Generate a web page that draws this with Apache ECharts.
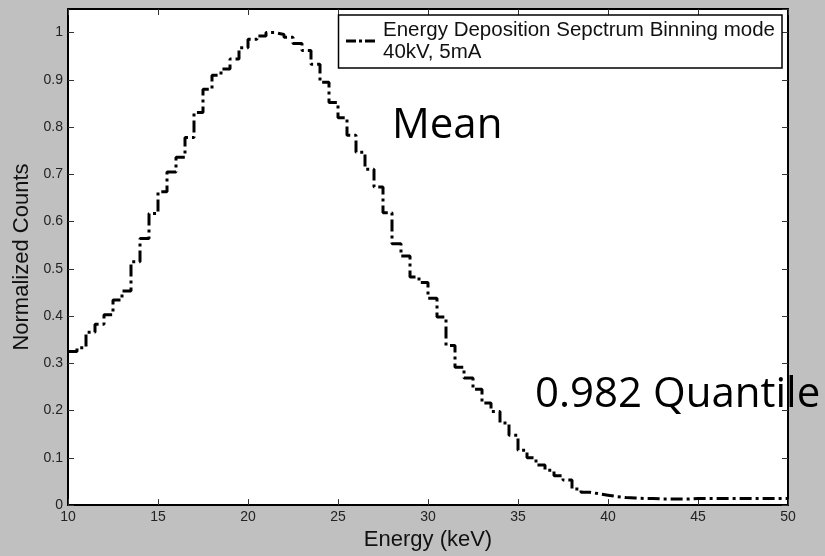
<!DOCTYPE html>
<html>
<head>
<meta charset="utf-8">
<script src="https://cdn.jsdelivr.net/npm/echarts@6/dist/echarts.min.js"></script>
<style>
html,body{margin:0;padding:0;background:#c0c0c0;}
#c{width:825px;height:556px;}
</style>
</head>
<body>
<div id="c"></div>
<script>
// Bin left edges (keV); last entry closes the final bin
const energy = [10,10.5,11,11.5,12,12.5,13,13.5,14,14.5,15,15.5,16,16.5,17,17.5,18,18.5,19,19.5,
  20,20.5,21,21.5,22,22.5,23,23.5,24,24.5,25,25.5,26,26.5,27,27.5,28,28.5,29,29.5,
  30,30.5,31,31.5,32,32.5,33,33.5,34,34.5,35,35.5,36,36.5,37,37.5,38,38.5,39,39.5,
  40,40.5,41,41.5,42,42.5,43,43.5,44,44.5,45,45.5,46,46.5,47,47.5,48,48.5,49,49.5,50];
// Normalized counts per bin (last value repeated to close the step)
const counts = [0.325,0.333,0.366,0.383,0.403,0.434,0.453,0.515,0.564,0.617,
  0.663,0.705,0.736,0.778,0.831,0.880,0.910,0.923,0.944,0.968,
  0.986,0.993,1.000,0.996,0.990,0.977,0.962,0.933,0.895,0.852,
  0.820,0.783,0.747,0.711,0.673,0.619,0.553,0.527,0.483,0.471,
  0.438,0.398,0.338,0.292,0.269,0.245,0.216,0.198,0.174,0.148,
  0.116,0.100,0.085,0.074,0.062,0.053,0.034,0.027,0.024,0.021,
  0.018,0.016,0.015,0.014,0.014,0.013,0.013,0.013,0.013,0.014,
  0.014,0.014,0.014,0.014,0.014,0.014,0.014,0.014,0.014,0.014,0.014];
const seriesName = 'Energy Deposition Sepctrum Binning mode';
const seriesSub = '40kV, 5mA';
const xLabel = 'Energy (keV)';
const yLabel = 'Normalized Counts';
const annoMean = 'Mean';
const annoQuant = '0.982 Quantile';

const data = energy.map((e, i) => [e, counts[i]]);
const FONT = '"Liberation Sans", Arial, sans-serif';
const dash = [12, 4, 3, 4];

const chart = echarts.init(document.getElementById('c'));
const axisLine = {show: true, onZero: false, lineStyle: {color: '#000', width: 2}};
const axisTick = {show: true, inside: true, length: 6, lineStyle: {color: '#333', width: 1}};
chart.setOption({
  animation: false,
  backgroundColor: '#c0c0c0',
  grid: {left: 68, right: 37, top: 9, bottom: 48, show: true, backgroundColor: '#fff', borderWidth: 0},
  xAxis: [{
    type: 'value', min: 10, max: 50, interval: 5, position: 'bottom',
    axisLine: axisLine, axisTick: axisTick, splitLine: {show: false},
    axisLabel: {margin: 5, color: '#222', fontFamily: FONT, fontSize: 14},
    name: xLabel, nameLocation: 'middle', nameGap: 22,
    nameTextStyle: {fontFamily: FONT, fontSize: 22, color: '#111'}
  }, {
    type: 'value', min: 10, max: 50, interval: 5, position: 'top',
    axisLine: axisLine, axisTick: axisTick, splitLine: {show: false},
    axisLabel: {show: false}
  }],
  yAxis: [{
    type: 'value', min: 0, max: 1.05, interval: 0.1, position: 'left',
    axisLine: axisLine, axisTick: axisTick, splitLine: {show: false},
    axisLabel: {margin: 5, color: '#222', fontFamily: FONT, fontSize: 14, showMaxLabel: false},
    name: yLabel, nameLocation: 'middle', nameGap: 33,
    nameTextStyle: {fontFamily: FONT, fontSize: 22, color: '#111'}
  }, {
    type: 'value', min: 0, max: 1.05, interval: 0.1, position: 'right',
    axisLine: axisLine, axisTick: axisTick, splitLine: {show: false},
    axisLabel: {show: false}
  }],
  legend: {
    show: true, right: 43, top: 15, orient: 'vertical', selectedMode: false,
    backgroundColor: '#fff', borderColor: '#000', borderWidth: 1.5, borderRadius: 0,
    padding: [4, 7, 5, 6], itemWidth: 32, itemHeight: 14,
    formatter: n => n + '\n' + seriesSub,
    textStyle: {fontFamily: FONT, fontSize: 20.5, lineHeight: 22, color: '#111'},
    itemStyle: {opacity: 0, borderWidth: 0},
    lineStyle: {color: '#000', width: 3, type: [10, 3, 3, 3]}
  },
  series: [{
    type: 'line', name: seriesName, data: data, step: 'end', symbol: 'none',
    xAxisIndex: 0, yAxisIndex: 0, silent: true,
    itemStyle: {color: '#000'},
    lineStyle: {color: '#000', width: 3, type: dash, cap: 'butt'}
  }],
  graphic: [
    {type: 'text', left: 392, top: 105, silent: true,
     style: {text: annoMean, font: '42px "Open Sans", sans-serif', fill: '#000'}},
    {type: 'text', left: 535, top: 374, silent: true,
     style: {text: annoQuant, font: '42px "Open Sans", sans-serif', fill: '#000'}}
  ]
});
</script>
</body>
</html>
